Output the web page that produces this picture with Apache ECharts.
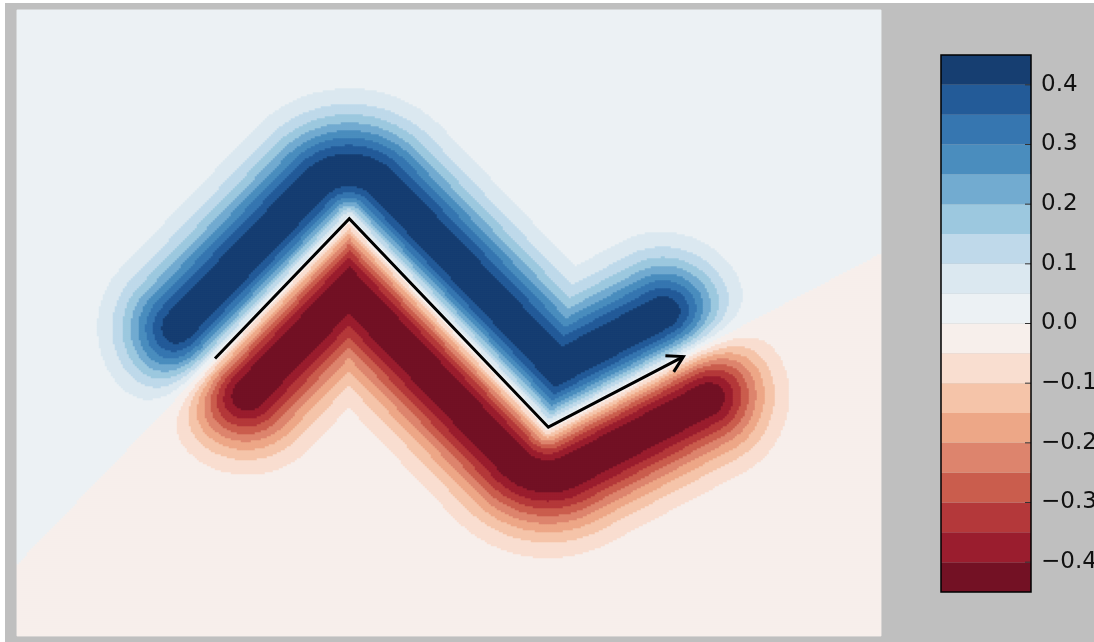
<!DOCTYPE html>
<html>
<head>
<meta charset="utf-8">
<script src="https://cdn.jsdelivr.net/npm/echarts@6/dist/echarts.min.js"></script>
<style>
  html, body { margin: 0; padding: 0; background: #ffffff; width: 1094px; height: 642px; overflow: hidden; }
  #chart { position: absolute; left: 5px; top: 3px; width: 1089px; height: 639px; }
</style>
</head>
<body>
<div id="chart"></div>
<script>
// Vertices of the arrow path (data units, y pointing up)
const pathX = [2.75, 4.615, 7.38, 9.255];
const pathY = [3.855, 5.795, 2.9, 3.88];

// Filled-contour levels and the fill of each band (lowest band first)
const levels = [-0.45, -0.40, -0.35, -0.30, -0.25, -0.20, -0.15, -0.10, -0.05, 0.0,
                0.05, 0.10, 0.15, 0.20, 0.25, 0.30, 0.35, 0.40, 0.45];
const bandColors = ['#731124', '#9a1d2e', '#b4383a', '#ca5d4d', '#dd846d', '#eda787',
                    '#f5c4a9', '#f9ded0', '#f7efeb', '#ecf1f4', '#dbe8f0', '#bfd9ea',
                    '#9cc8df', '#72abd0', '#4a8dbe', '#3676b0', '#235b98', '#163e71'];

// Colour-bar ticks
const cbarTicks = [-0.4, -0.3, -0.2, -0.1, 0.0, 0.1, 0.2, 0.3, 0.4];

// Field domain and sampling grid
const xRange = [0, 12];
const yRange = [0, 8.694];
const nx = 432, ny = 313;
const amplitude = 0.45;   // ridge height
const ridgeDist = 0.667;  // ridge distance from the path
const capScale = 0.85;    // how far the field reaches past the two path ends

// Signed field around the path: positive on the left of travel, negative on the right,
// peaking one ridge-distance away and rounded off as a dipole past the two ends.
function fieldAt(px, py) {
  const nSeg = pathX.length - 1;
  let best = Infinity, bestAcross = 0, signed = 0, q2 = 0;
  for (let i = 0; i < nSeg; i++) {
    const ax = pathX[i], ay = pathY[i];
    const dx = pathX[i + 1] - ax, dy = pathY[i + 1] - ay;
    const L = Math.hypot(dx, dy);
    const tx = dx / L, ty = dy / L;
    const nxv = -ty, nyv = tx;
    const rx0 = px - ax, ry0 = py - ay;
    let t = rx0 * tx + ry0 * ty;
    let clamp = 0;
    if (t < 0) { t = 0; clamp = -1; } else if (t > L) { t = L; clamp = 1; }
    const rx = rx0 - t * tx, ry = ry0 - t * ty;
    const d = Math.hypot(rx, ry);
    const across = rx * nxv + ry * nyv;
    const closer = d < best - 1e-9;
    const tie = !closer && Math.abs(d - best) <= 1e-9 && Math.abs(across) > Math.abs(bestAcross);
    if (closer || tie) {
      best = d;
      bestAcross = across;
      const atEnd = (clamp === -1 && i === 0) || (clamp === 1 && i === nSeg - 1);
      if (atEnd) {
        const along = (rx * tx + ry * ty) / capScale;
        signed = across;
        q2 = (across * across + along * along) / (ridgeDist * ridgeDist);
      } else {
        signed = across >= 0 ? d : -d;
        q2 = (d * d) / (ridgeDist * ridgeDist);
      }
    }
  }
  const u = signed / ridgeDist;
  return amplitude * u * Math.exp((1 - q2) / 2);
}

const dx = (xRange[1] - xRange[0]) / nx;
const dy = (yRange[1] - yRange[0]) / ny;
const xCells = [], yCells = [];
for (let i = 0; i < nx; i++) xCells.push((xRange[0] + (i + 0.5) * dx).toFixed(4));
for (let j = 0; j < ny; j++) yCells.push((yRange[0] + (j + 0.5) * dy).toFixed(4));

const cells = [];
for (let j = 0; j < ny; j++) {
  const cy = yRange[0] + (j + 0.5) * dy;
  for (let i = 0; i < nx; i++) {
    const cx = xRange[0] + (i + 0.5) * dx;
    cells.push([i, j, fieldAt(cx, cy)]);
  }
}

const pieces = [];
for (let k = 0; k < bandColors.length; k++) {
  const p = { color: bandColors[k] };
  if (k > 0) p.gt = levels[k];
  if (k < bandColors.length - 1) p.lte = levels[k + 1];
  pieces.push(p);
}

const bands = [];
for (let k = 0; k < bandColors.length; k++) bands.push([0.5, levels[k], levels[k + 1], k]);

const fmtTick = v => v.toFixed(1).replace('-', '\u2212');

const chart = echarts.init(document.getElementById('chart'), null, { renderer: 'canvas' });
chart.setOption({
  animation: false,
  backgroundColor: '#bfbfbf',
  textStyle: { fontFamily: 'DejaVu Sans' },
  grid: [
    { left: 12, top: 7, width: 864, height: 626, outerBoundsMode: 'none', containLabel: false,
      show: true, borderColor: '#d6d6d6', borderWidth: 1, backgroundColor: 'transparent' },
    { left: 936, top: 52, width: 90, height: 537, outerBoundsMode: 'none', containLabel: false }
  ],
  xAxis: [
    { type: 'category', gridIndex: 0, data: xCells, show: false },
    { type: 'value', gridIndex: 0, min: xRange[0], max: xRange[1], show: false },
    { type: 'value', gridIndex: 1, min: 0, max: 1, show: false }
  ],
  yAxis: [
    { type: 'category', gridIndex: 0, data: yCells, show: false },
    { type: 'value', gridIndex: 0, min: yRange[0], max: yRange[1], show: false },
    {
      type: 'value', gridIndex: 1, position: 'right', min: levels[0], max: levels[levels.length - 1],
      axisLine: { show: false },
      splitLine: { show: false },
      axisTick: { show: false },
      axisLabel: { show: true, customValues: cbarTicks, formatter: fmtTick, fontSize: 23, color: '#111', margin: 10, fontFamily: 'DejaVu Sans' }
    }
  ],
  visualMap: {
    type: 'piecewise', show: false, seriesIndex: 0, dimension: 2, pieces: pieces
  },
  series: [
    {
      type: 'heatmap', xAxisIndex: 0, yAxisIndex: 0, data: cells,
      progressive: 0, silent: true, emphasis: { disabled: true }
    },
    {
      type: 'line', xAxisIndex: 1, yAxisIndex: 1, z: 5, silent: true,
      data: pathX.map((x, i) => [x, pathY[i]]),
      symbol: 'none',
      lineStyle: { color: '#000', width: 3, join: 'miter' }
    },
    {
      type: 'custom', xAxisIndex: 1, yAxisIndex: 1, z: 6, silent: true,
      data: [[pathX[pathX.length - 2], pathY[pathY.length - 2], pathX[pathX.length - 1], pathY[pathY.length - 1]]],
      encode: { x: [0, 2], y: [1, 3] },
      renderItem: function (params, api) {
        const a = api.coord([api.value(0), api.value(1)]);
        const b = api.coord([api.value(2), api.value(3)]);
        const ang = Math.atan2(b[1] - a[1], b[0] - a[0]);
        const len = 18, spread = Math.PI / 6;
        const p1 = [b[0] - len * Math.cos(ang - spread), b[1] - len * Math.sin(ang - spread)];
        const p2 = [b[0] - len * Math.cos(ang + spread), b[1] - len * Math.sin(ang + spread)];
        return {
          type: 'polyline',
          shape: { points: [p1, b, p2] },
          style: { stroke: '#000', lineWidth: 3, fill: null, lineJoin: 'miter' }
        };
      }
    },
    {
      type: 'custom', xAxisIndex: 2, yAxisIndex: 2, z: 2, silent: true,
      data: bands,
      encode: { x: 0, y: [1, 2] },
      renderItem: function (params, api) {
        const top = api.coord([0, api.value(2)]);
        const bot = api.coord([1, api.value(1)]);
        return {
          type: 'rect',
          shape: { x: top[0], y: top[1], width: bot[0] - top[0], height: bot[1] - top[1] },
          style: { fill: bandColors[api.value(3)] }
        };
      }
    },
    {
      // ticks pointing into the colour bar from its right edge
      type: 'custom', xAxisIndex: 2, yAxisIndex: 2, z: 4, silent: true,
      data: cbarTicks.map(v => [1, v]),
      encode: { x: 0, y: 1 },
      renderItem: function (params, api) {
        const p = api.coord([api.value(0), api.value(1)]);
        return {
          type: 'line',
          shape: { x1: p[0] - 6, y1: p[1], x2: p[0], y2: p[1] },
          style: { stroke: '#333', lineWidth: 1 }
        };
      }
    },
    {
      type: 'custom', xAxisIndex: 2, yAxisIndex: 2, z: 4, silent: true,
      data: [[0, levels[0], 1, levels[levels.length - 1]]],
      encode: { x: [0, 2], y: [1, 3] },
      renderItem: function (params, api) {
        const top = api.coord([api.value(0), api.value(3)]);
        const bot = api.coord([api.value(2), api.value(1)]);
        return {
          type: 'rect',
          shape: { x: top[0], y: top[1], width: bot[0] - top[0], height: bot[1] - top[1] },
          style: { fill: null, stroke: '#000', lineWidth: 1.5 }
        };
      }
    }
  ]
});
</script>
</body>
</html>
